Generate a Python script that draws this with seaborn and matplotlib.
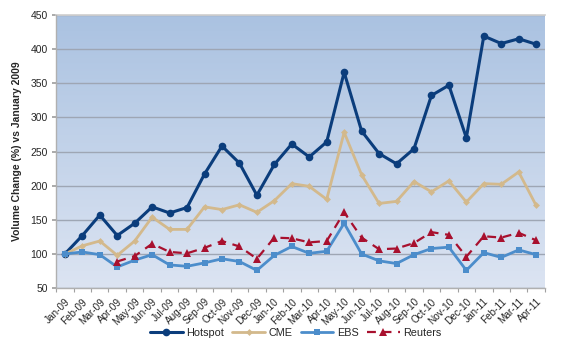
import numpy as np
import pandas as pd
import seaborn as sns
import matplotlib.pyplot as plt
from matplotlib.colors import LinearSegmentedColormap

# Monthly volume vs January 2009 (%)
months = ["Jan-09", "Feb-09", "Mar-09", "Apr-09", "May-09", "Jun-09", "Jul-09", "Aug-09",
          "Sep-09", "Oct-09", "Nov-09", "Dec-09", "Jan-10", "Feb-10", "Mar-10", "Apr-10",
          "May-10", "Jun-10", "Jul-10", "Aug-10", "Sep-10", "Oct-10", "Nov-10", "Dec-10",
          "Jan-11", "Feb-11", "Mar-11", "Apr-11"]
hotspot = [100, 127, 157, 127, 145, 169, 160, 168, 217, 258, 233, 186, 231, 261,
           242, 264, 366, 280, 247, 232, 254, 332, 347, 270, 419, 408, 415, 407]
cme = [100, 112, 119, 98, 119, 154, 136, 136, 169, 165, 172, 161, 178, 203,
       199, 180, 278, 216, 174, 177, 206, 191, 207, 176, 203, 202, 220, 171]
ebs = [100, 103, 99, 81, 91, 99, 84, 82, 87, 93, 89, 76, 98, 111,
       101, 104, 145, 100, 90, 86, 99, 108, 110, 76, 102, 95, 106, 99]
reuters = [np.nan, np.nan, np.nan, 89, 97, 115, 103, 101, 109, 119, 111, 93, 124, 123,
           117, 119, 161, 124, 107, 108, 116, 132, 128, 96, 126, 124, 131, 120]

series = {"Hotspot": hotspot, "CME": cme, "EBS": ebs, "Reuters": reuters}
styles = {
    "Hotspot": dict(color="#0B3D7C", marker="o", markersize=5.5, linewidth=2.2, linestyle="-"),
    "CME": dict(color="#D3B98C", marker="D", markersize=3.5, linewidth=2.0, linestyle="-"),
    "EBS": dict(color="#4C8DCB", marker="s", markersize=5, linewidth=2.0, linestyle="-"),
    "Reuters": dict(color="#A8102E", marker="^", markersize=6, linewidth=1.6, linestyle=(0, (4, 3))),
}

sns.set_theme(style="white")
plt.rcParams["font.family"] = ["Liberation Sans", "DejaVu Sans"]

fig = plt.figure(figsize=(5.67, 3.54), dpi=100)
ax = fig.add_axes([0.099, 0.186, 0.862, 0.772])

x = np.arange(len(months))
for name, vals in series.items():
    df = pd.DataFrame({"x": x, "y": vals}).dropna()
    st = styles[name]
    sns.lineplot(data=df, x="x", y="y", ax=ax, color=st["color"], marker=st["marker"],
                 markersize=st["markersize"], linewidth=st["linewidth"], linestyle=st["linestyle"],
                 markeredgecolor=st["color"], markeredgewidth=0, label=name, zorder=3)

# gradient background
cmap = LinearSegmentedColormap.from_list("bg", ["#DCE4F2", "#AAC2E1"])
grad = np.linspace(0, 1, 256).reshape(-1, 1)
ax.imshow(grad, cmap=cmap, aspect="auto", extent=[-0.5, 27.5, 50, 450],
          origin="lower", zorder=0)

ax.set_xlim(-0.5, len(months) - 0.5)
ax.set_ylim(50, 450)
ax.set_yticks(range(50, 451, 50))
ax.yaxis.grid(True, color="#9EA6B4", linewidth=1.0, zorder=1)
for line in ax.get_ygridlines():
    line.set_zorder(1)

ax.set_xticks(x)
ax.set_xticklabels(months, rotation=45, ha="right", rotation_mode="anchor", fontsize=7.2)
ax.set_xticks(np.arange(-0.5, len(months), 1), minor=True)
ax.tick_params(axis="x", which="major", length=0, pad=6)
ax.tick_params(axis="x", which="minor", length=3, color="#A0A0A0", width=0.8, bottom=True)
ax.tick_params(axis="y", labelsize=7.5, length=3, color="#A0A0A0", left=True, pad=3)

ax.set_xlabel("")
ax.set_ylabel("Volume Change (%) vs January 2009", fontsize=7.5, fontweight="bold", labelpad=6)

for side in ["left", "bottom"]:
    ax.spines[side].set_color("#B0B0B0")
    ax.spines[side].set_linewidth(1.0)
    ax.spines[side].set_zorder(4)
ax.spines["top"].set_color("#D0D0D0")
ax.spines["right"].set_visible(False)

ax.legend(loc="center", bbox_to_anchor=(0.49, -0.165), ncol=4, frameon=False,
          fontsize=7.8, handlelength=3.0, columnspacing=0.8, handletextpad=0.3)

plt.savefig("out.png", dpi=100)
